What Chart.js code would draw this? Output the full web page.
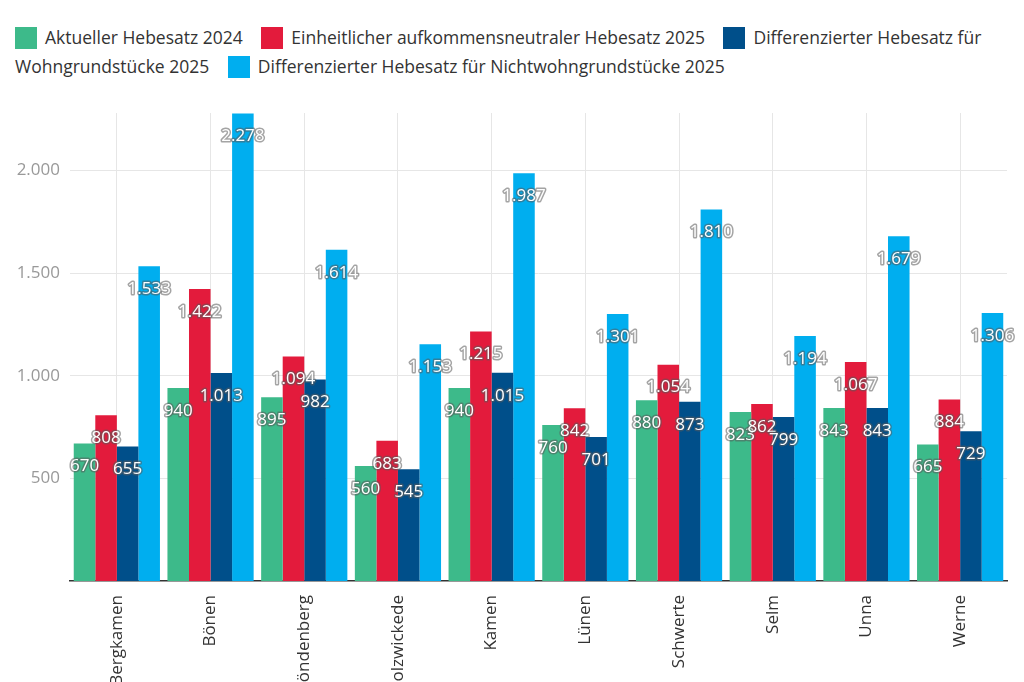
<!DOCTYPE html>
<html lang="de">
<head>
<meta charset="utf-8">
<script src="https://cdn.jsdelivr.net/npm/chart.js@4.4.1/dist/chart.umd.min.js"></script>
<style>
  html, body { margin: 0; padding: 0; background: #fff; overflow: hidden; }
  body { width: 1024px; height: 682px; position: relative; }
  #legend {
    position: absolute; left: 15px; top: 23px; width: 995px;
    font-family: "Open Sans", sans-serif; font-size: 17.5px; line-height: 29px; color: #333;
  }
  #legend .item { white-space: normal; margin-right: 14px; }
  #legend .box {
    display: inline-block; width: 22px; height: 22px; vertical-align: -5px; margin-right: 8px;
  }
  #wrap { position: absolute; left: 0; top: 0; width: 1024px; height: 720px; }
</style>
</head>
<body>
<div id="legend"></div>
<div id="wrap"><canvas id="chart"></canvas></div>
<script>
// Gemeinden im Kreis Unna
const staedte = ['Bergkamen', 'Bönen', 'Fröndenberg', 'Holzwickede', 'Kamen',
                 'Lünen', 'Schwerte', 'Selm', 'Unna', 'Werne'];

const hebesatz2024      = [670, 940, 895, 560, 940, 760, 880, 823, 843, 665];
const einheitlich2025   = [808, 1422, 1094, 683, 1215, 842, 1054, 862, 1067, 884];
const wohnen2025        = [655, 1013, 982, 545, 1015, 701, 873, 799, 843, 729];
const nichtwohnen2025   = [1533, 2278, 1614, 1153, 1987, 1301, 1810, 1194, 1679, 1306];

const serienNamen = [
  'Aktueller Hebesatz 2024',
  'Einheitlicher aufkommensneutraler Hebesatz 2025',
  'Differenzierter Hebesatz für Wohngrundstücke 2025',
  'Differenzierter Hebesatz für Nichtwohngrundstücke 2025'
];
const farben = ['#3dba8a', '#e31b3c', '#004f8a', '#00aeef'];
const yTicks = [500, 1000, 1500, 2000];

const fmt = v => v.toLocaleString('de-DE');

// Legende als HTML, damit lange Einträge wie im Original umbrechen
const legend = document.getElementById('legend');
serienNamen.forEach((name, i) => {
  const span = document.createElement('span');
  span.className = 'item';
  span.innerHTML = '<span class="box" style="background:' + farben[i] + '"></span>' + name;
  legend.appendChild(span);
  legend.appendChild(document.createTextNode(' '));
});

// Wertelabels: weiß mit grauem Rand, knapp unter der Balkenoberkante
const wertLabels = {
  id: 'wertLabels',
  afterDatasetsDraw(chart) {
    const ctx = chart.ctx;
    ctx.save();
    ctx.font = '17px "Open Sans", sans-serif';
    ctx.textAlign = 'center';
    ctx.textBaseline = 'middle';
    ctx.lineJoin = 'round';
    chart.data.datasets.forEach((ds, di) => {
      chart.getDatasetMeta(di).data.forEach((bar, i) => {
        const txt = fmt(ds.data[i]);
        const y = bar.y + 23;
        ctx.strokeStyle = 'rgba(90,90,90,0.55)';
        ctx.lineWidth = 3;
        ctx.strokeText(txt, bar.x, y);
        ctx.fillStyle = '#ffffff';
        ctx.fillText(txt, bar.x, y);
      });
    });
    ctx.restore();
  }
};

new Chart(document.getElementById('chart'), {
  type: 'bar',
  data: {
    labels: staedte,
    datasets: [hebesatz2024, einheitlich2025, wohnen2025, nichtwohnen2025].map((d, i) => ({
      label: serienNamen[i],
      data: d,
      backgroundColor: farben[i],
      borderWidth: 0,
      barPercentage: 1,
      categoryPercentage: 0.92
    }))
  },
  options: {
    responsive: true,
    maintainAspectRatio: false,
    animation: false,
    layout: { padding: { top: 113, right: 17, left: 0, bottom: 0 } },
    plugins: { legend: { display: false }, tooltip: { enabled: false } },
    scales: {
      x: {
        grid: { offset: false, color: '#e6e6e6', drawTicks: false },
        border: { color: '#333', width: 1.5 },
        ticks: {
          minRotation: 90, maxRotation: 90, padding: 14, autoSkip: false,
          color: '#333', font: { family: 'Open Sans', size: 17 }
        },
        afterFit: s => { s.height = 139; }
      },
      y: {
        min: 0, max: 2280,
        grid: { color: '#e6e6e6', drawTicks: false },
        border: { display: false },
        ticks: {
          padding: 10, color: '#999', font: { family: 'Open Sans', size: 17 },
          callback: v => fmt(v)
        },
        afterBuildTicks: s => { s.ticks = yTicks.map(v => ({ value: v })); },
        afterFit: s => { s.width = 70; }
      }
    }
  },
  plugins: [wertLabels]
});
</script>
</body>
</html>
